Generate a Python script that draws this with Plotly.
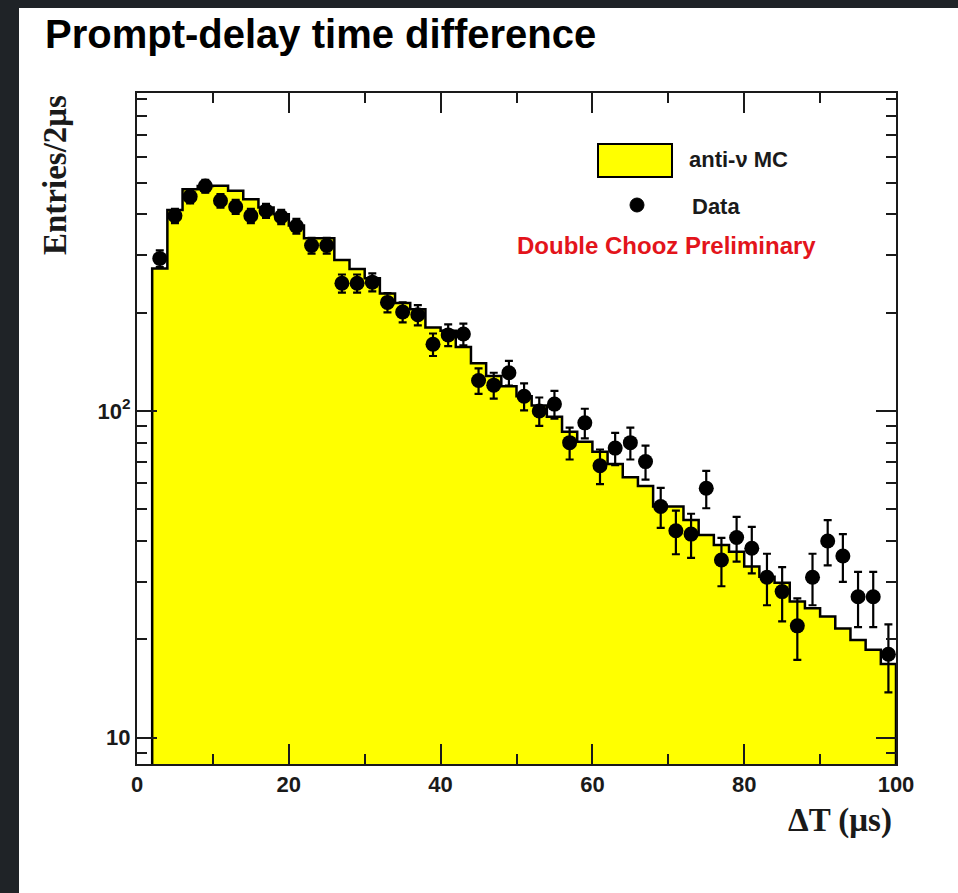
import numpy as np
import plotly.graph_objects as go

# ---- data: 2 us bins, first filled bin starts at 2 us ----
bin_low_edges = list(range(2, 100, 2))          # 2, 4, ..., 98
bin_centers = [e + 1 for e in bin_low_edges]    # 3, 5, ..., 99

mc_counts = [273, 412, 477, 488, 489, 472, 445, 420, 400, 370,
             338, 338, 290, 272, 255, 229, 214, 205, 180, 176,
             157, 140, 128, 119, 111, 104, 96, 86.4, 80.5, 75.1,
             68.8, 62.7, 58.9, 51, 51, 46.4, 41.7, 38.9, 37.1, 33.4,
             31.1, 29.8, 26.1, 24.9, 23.5, 21.6, 19.9, 18.6, 16.8]

data_counts = [293, 396, 453, 488, 440, 422, 396, 410, 393, 368,
               321, 321, 246, 246, 248, 215, 201, 197, 160, 171,
               172, 124, 120, 131, 111, 100, 105, 80, 92, 68,
               77, 80, 70, 51, 43, 42, 58, 35, 41, 38,
               31, 28, 22, 31, 40, 36, 27, 27, 18]

x_tick_vals = [0, 20, 40, 60, 80, 100]
x_minor_vals = [10, 30, 50, 70, 90]
y_tick_vals = [10, 100]
y_tick_text = ["10", "10<sup>2</sup>"]
y_minor_vals = [9, 20, 30, 40, 50, 60, 70, 80, 90,
                200, 300, 400, 500, 600, 700, 800, 900]

X_RANGE = [0, 100]
Y_RANGE_LOG = [0.9195, 2.9734]

# ---- page geometry (pixels) ----
W, H = 958, 893
L, R, T, B = 137, 62, 93, 129
PW, PH = W - L - R, H - T - B


def px_x(px):
    return (px - L) / PW


def px_y(py):
    return (H - B - py) / PH


SANS = "Liberation Sans, Arial, Helvetica, sans-serif"
SERIF = "Liberation Serif, Times New Roman, serif"
INK = "#1a1a1a"

fig = go.Figure()

# MC histogram: filled step outline
y_floor = 10 ** Y_RANGE_LOG[0]
step_x = [bin_low_edges[0]] + bin_low_edges + [X_RANGE[1], X_RANGE[1]]
step_y = [y_floor] + mc_counts + [mc_counts[-1], y_floor]
fig.add_trace(go.Scatter(
    x=step_x, y=step_y, mode="lines", line_shape="hv",
    fill="toself", fillcolor="#ffff00",
    line=dict(color="black", width=2.5),
    hoverinfo="skip", showlegend=False,
))

# Data points with Poisson errors
fig.add_trace(go.Scatter(
    x=bin_centers, y=data_counts, mode="markers",
    marker=dict(symbol="circle", size=15, color="black"),
    error_y=dict(type="data", array=np.sqrt(data_counts).tolist(),
                 color="black", thickness=2.2, width=4),
    showlegend=False,
))

axis_common = dict(
    showline=True, linecolor=INK, linewidth=2, mirror="ticks",
    ticks="inside", ticklen=20, tickwidth=1.6, tickcolor=INK,
    showgrid=False, zeroline=False,
    tickfont=dict(family=SANS, size=22, color=INK, weight="bold"),
)

fig.update_layout(
    width=W, height=H, autosize=False,
    margin=dict(l=L, r=R, t=T, b=B, pad=0),
    paper_bgcolor="white", plot_bgcolor="white",
    xaxis=dict(range=X_RANGE, tickmode="array", tickvals=x_tick_vals,
               minor=dict(tickvals=x_minor_vals, ticks="inside", ticklen=10,
                          tickwidth=1.6, tickcolor=INK),
               **axis_common),
    yaxis=dict(type="log", range=Y_RANGE_LOG, tickmode="array",
               tickvals=y_tick_vals, ticktext=y_tick_text,
               minor=dict(tickvals=y_minor_vals, ticks="inside", ticklen=10,
                          tickwidth=1.6, tickcolor=INK),
               **axis_common),
)

# dark textured page border
DARK = "#1f2327"
fig.add_shape(type="rect", xref="paper", yref="paper", layer="above",
              x0=px_x(0), x1=px_x(19), y0=px_y(H), y1=px_y(0),
              fillcolor=DARK, line_width=0)
fig.add_shape(type="rect", xref="paper", yref="paper", layer="above",
              x0=px_x(0), x1=px_x(W), y0=px_y(8), y1=px_y(0),
              fillcolor=DARK, line_width=0)

# legend: MC box and data marker
fig.add_shape(type="rect", xref="paper", yref="paper",
              x0=px_x(598), x1=px_x(672), y0=px_y(177), y1=px_y(144),
              fillcolor="#ffff00", line=dict(color="black", width=2))
fig.add_shape(type="circle", xref="paper", yref="paper",
              x0=px_x(630), x1=px_x(644), y0=px_y(212), y1=px_y(198),
              fillcolor="black", line=dict(color="black", width=1))

annotations = [
    dict(text="Prompt-delay time difference", x=px_x(43), y=px_y(34),
         xanchor="left", yanchor="middle",
         font=dict(family=SANS, size=40, color="black", weight="bold")),
    dict(text="Entries/2μs", x=px_x(55), y=px_y(93), textangle=-90,
         xanchor="center", yanchor="top",
         font=dict(family=SERIF, size=33, color=INK, weight="bold")),
    dict(text="ΔT (μs)", x=px_x(894), y=px_y(820),
         xanchor="right", yanchor="middle",
         font=dict(family=SERIF, size=33, color=INK, weight="bold")),
    dict(text="anti-ν MC", x=px_x(687), y=px_y(159),
         xanchor="left", yanchor="middle",
         font=dict(family=SANS, size=22, color=INK, weight="bold")),
    dict(text="Data", x=px_x(690), y=px_y(206),
         xanchor="left", yanchor="middle",
         font=dict(family=SANS, size=22, color=INK, weight="bold")),
    dict(text="Double Chooz Preliminary", x=px_x(818), y=px_y(245),
         xanchor="right", yanchor="middle",
         font=dict(family=SANS, size=24, color="#e3141b", weight="bold")),
]
for a in annotations:
    a.update(xref="paper", yref="paper", showarrow=False)
fig.update_layout(annotations=annotations)

fig.write_html("out.html")
